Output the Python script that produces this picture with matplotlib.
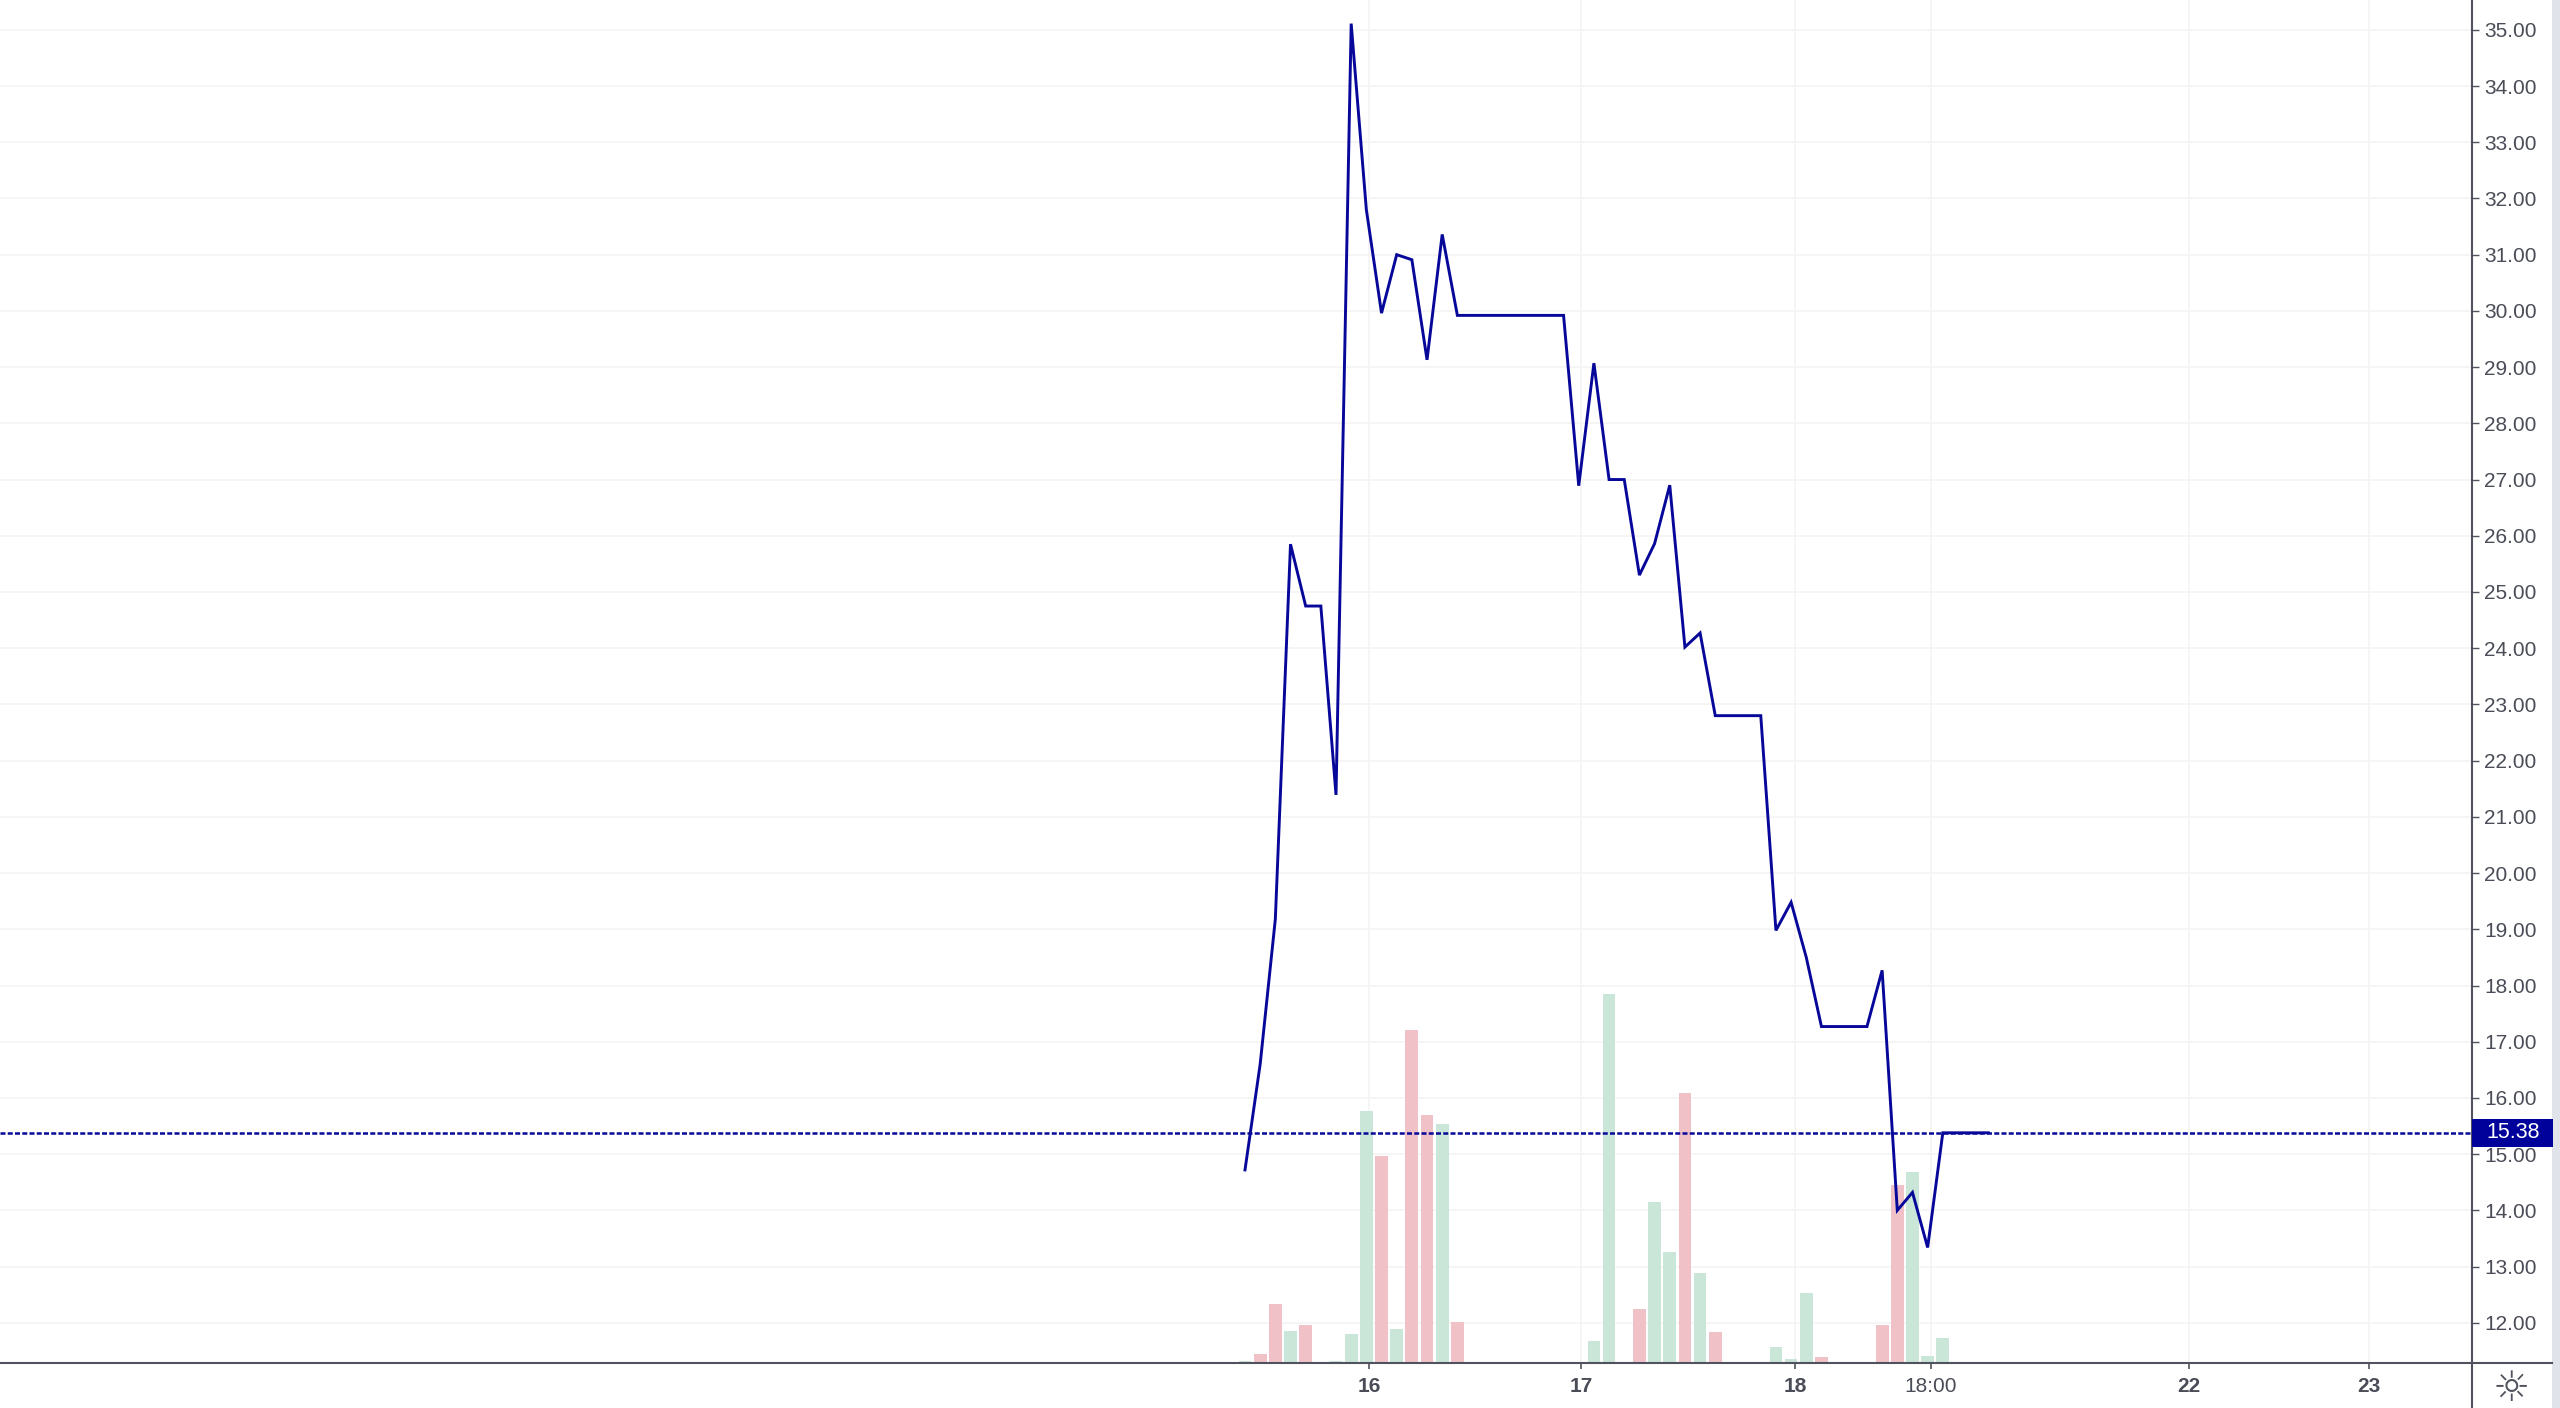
import numpy as np
import matplotlib.pyplot as plt
from matplotlib.lines import Line2D
from matplotlib.patches import Rectangle
from matplotlib.transforms import blended_transform_factory

plt.rcParams.update({
    "font.family": ["Liberation Sans", "DejaVu Sans"],
    "font.size": 15,
})

# closing price per bar (bar index 0..49)
close = [
    14.72, 16.60, 19.18, 25.85, 24.75, 24.75, 21.39, 35.11, 31.80, 29.96,
    31.00, 30.91, 29.13, 31.36, 29.92, 29.92, 29.92, 29.92, 29.92, 29.92,
    29.92, 29.92, 26.89, 29.07, 27.00, 27.00, 25.30, 25.86, 26.90, 24.02,
    24.27, 22.80, 22.80, 22.80, 22.80, 18.98, 19.48, 18.50, 17.27, 17.27,
    17.27, 17.27, 18.27, 14.00, 14.32, 13.34, 15.38, 15.38, 15.38, 15.38,
]

# volume per bar and its colour side (1 = up / green, 0 = down / red)
volume = [
    2, 9, 59, 32, 38, 0, 2, 29, 253, 208,
    34, 334, 249, 240, 41, 0, 0, 0, 0, 0,
    0, 0, 0, 22, 370, 0, 54, 162, 111, 271,
    90, 31, 0, 0, 0, 16, 4, 70, 6, 0,
    0, 0, 38, 179, 192, 7, 25, 0, 0, 0,
]
vol_up = [
    1, 0, 0, 1, 0, 0, 1, 1, 1, 0,
    1, 0, 0, 1, 0, 0, 0, 0, 0, 0,
    0, 0, 0, 1, 1, 0, 0, 1, 1, 0,
    1, 0, 0, 0, 0, 1, 1, 1, 0, 0,
    0, 0, 0, 0, 1, 1, 1, 0, 0, 0,
]

last_price = 15.38

x_tick_pos = [8.19, 22.17, 36.26, 45.22, 62.2, 74.1]
x_tick_labels = ["16", "17", "18", "18:00", "22", "23"]
x_tick_bold = [True, True, True, False, True, True]

y_ticks = list(range(12, 36))

line_color = "#07079a"
axis_color = "#50535e"
text_color = "#4a4d57"
grid_color = "#f4f4f6"
up_color = "#c9e6d8"
down_color = "#f0c2c8"

x = np.arange(len(close))

fig = plt.figure(figsize=(25.6, 14.08), dpi=100, facecolor="white")

rect = [0.0, 0.03175, 0.9656, 0.96825]
xlim = (-82.07, 80.88)
ylim = (11.28, 35.53)

ax_vol = fig.add_axes(rect, zorder=1)
ax = fig.add_axes(rect, zorder=2, sharex=ax_vol)
ax.set_facecolor("none")
ax_vol.set_facecolor("white")

ax.set_xlim(*xlim)
ax.set_ylim(*ylim)

# grid drawn on the volume axes so that it sits below the bars
hgrid = blended_transform_factory(ax_vol.transAxes, ax.transData)
for v in y_ticks:
    ax_vol.add_line(Line2D([0, 1], [v, v], transform=hgrid,
                           color=grid_color, lw=1.3, zorder=0))
for xp in x_tick_pos:
    ax_vol.axvline(xp, color=grid_color, lw=1.3, zorder=0)

vol_colors = [up_color if u else down_color for u in vol_up]
ax_vol.bar(x, volume, width=0.84, color=vol_colors, edgecolor="none", zorder=2)
ax_vol.set_ylim(0, max(volume) / 0.271)
ax_vol.axis("off")

ax.plot(x, close, color=line_color, lw=2.1, solid_joinstyle="miter", zorder=4)
ax.axhline(last_price, color=line_color, lw=1.8, ls=(0, (2.0, 0.9)), zorder=3)

ax.yaxis.tick_right()
ax.set_yticks(y_ticks)
ax.set_yticklabels([f"{v:.2f}" for v in y_ticks])
ax.tick_params(axis="y", direction="out", length=5, width=1.0, pad=4,
               colors=axis_color, labelcolor=text_color, labelsize=15)

ax.set_xticks(x_tick_pos)
ax.set_xticklabels(x_tick_labels)
for lab, bold in zip(ax.get_xticklabels(), x_tick_bold):
    lab.set_fontweight("bold" if bold else "normal")
ax.tick_params(axis="x", direction="out", length=4, width=1.2, pad=6,
               colors=axis_color, labelcolor=text_color, labelsize=15)

for side in ["top", "left"]:
    ax.spines[side].set_visible(False)
for side in ["right", "bottom"]:
    ax.spines[side].set_color(axis_color)
    ax.spines[side].set_linewidth(1.5)

# axis lines continue into the bottom-right corner
fig.add_artist(Line2D([rect[2], rect[2]], [0, rect[1]], color=axis_color, lw=1.5))
fig.add_artist(Line2D([rect[2], 0.9969], [rect[1], rect[1]], color=axis_color, lw=1.5))
fig.add_artist(Rectangle((0.9969, 0), 0.0031, 1, color="#e1e3ea", lw=0))

# last price label on the scale
lbl = blended_transform_factory(ax.transAxes, ax.transData)
ax.add_patch(Rectangle((1.0, last_price - 0.25), 0.0328, 0.5, transform=lbl,
                       facecolor="#00009a", edgecolor="none", clip_on=False, zorder=6))
ax.text(1.0 + 0.0166, last_price, "15.38", transform=lbl, ha="center", va="center",
        color="white", fontsize=15.5, clip_on=False, zorder=7)

fig.text(0.9811, 0.0135, "\u263c", ha="center", va="center", fontsize=30,
         color=axis_color, family="DejaVu Sans")

fig.savefig("out.png", dpi=100, facecolor="white")
